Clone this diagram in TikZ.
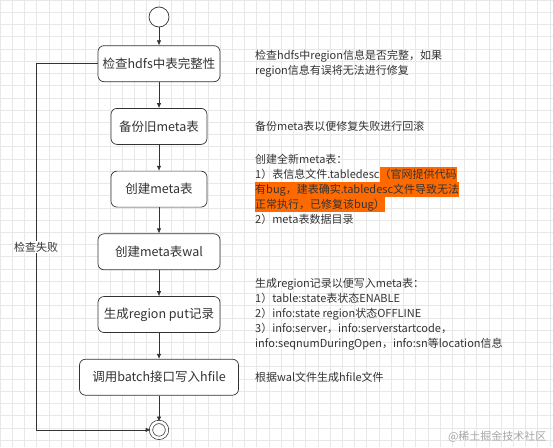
\documentclass[tikz,border=0pt]{standalone}
\usepackage{fontspec}
\setmainfont{Noto Sans CJK SC}
\usetikzlibrary{arrows.meta,positioning}

\definecolor{hlorange}{RGB}{255,106,0}
\definecolor{inkgray}{RGB}{51,51,51}
\newcommand{\hlbug}[1]{{\setlength{\fboxsep}{0pt}\colorbox{hlorange}{\rule[-4pt]{0pt}{15pt}#1}}}

\begin{document}
\begin{tikzpicture}[
  x=1pt, y=-1pt,
  node distance=26pt,
  stepbox/.style={
    rectangle, rounded corners=6pt, draw=inkgray, fill=white, line width=0.7pt,
    minimum width=#1, minimum height=36pt, inner sep=2pt,
    text=inkgray, font=\fontsize{12.5}{15}\selectfont
  },
  stepbox/.default=96pt,
  arrow/.style={-{Latex[length=5pt,width=4.5pt]}, line width=0.7pt, draw=inkgray},
  note/.style={anchor=west, align=left, inner sep=0pt, text=inkgray,
    font=\fontsize{11}{15}\selectfont},
  lbl/.style={font=\fontsize{11}{13}\selectfont, text=inkgray, fill=white, inner sep=1pt},
  gridline/.style={draw=black!9, line width=0.4pt}
]
\useasboundingbox (0,0) rectangle (553,447);

% background grid
\foreach \g in {0,12.22,...,553} \draw[gridline] (\g,0) -- (\g,447);
\foreach \g in {0,12.22,...,447} \draw[gridline] (0,\g) -- (553,\g);

% Steps - vertical layout
\node[circle, draw=inkgray, fill=white, line width=0.7pt, minimum size=20pt] (start) at (159,17) {};
\node[stepbox=122pt, below=18pt of start] (b1) {检查hdfs中表完整性};
\node[stepbox, below=of b1] (b2) {备份旧meta表};
\node[stepbox, below=of b2] (b3) {创建meta表};
\node[stepbox=122pt, below=of b3] (b4) {创建meta表wal};
\node[stepbox=122pt, below=of b4] (b5) {生成region put记录};
\node[stepbox=159pt, below=of b5] (b6) {调用batch接口写入hfile};
\node[circle, draw=inkgray, fill=white, line width=0.7pt, minimum size=16pt,
  double, double distance=2.6pt, below=26pt of b6] (end) {};

% Arrows
\draw[arrow] (start) -- (b1);
\draw[arrow] (b1) -- (b2);
\draw[arrow] (b2) -- (b3);
\draw[arrow] (b3) -- (b4);
\draw[arrow] (b4) -- (b5);
\draw[arrow] (b5) -- (b6);
\draw[arrow] (b6) -- (end);

% failure loop
\coordinate (lp) at (36,0);
\draw[arrow] (b1.west) -| (lp |- end) node[lbl, pos=0.75] {检查失败} -- (end.west);

% Right-side annotations
\coordinate (xn) at (255,0);
\node[note] (n1) at (xn |- b1) {检查hdfs中region信息是否完整，如果\\region信息有误将无法进行修复};
\node[note] (n2) at (xn |- b2) {备份meta表以便修复失败进行回滚};
\node[note] (n3) at (xn |- b3) {创建全新meta表：\\1）表信息文件.tabledesc\hlbug{（官网提供代码}\\\hlbug{有bug，建表确实.tabledesc文件导致无法}\\\hlbug{正常执行，已修复该bug）}\\2）meta表数据目录};
\node[note] (n4) at (xn |- b5) {生成region记录以便写入meta表：\\1）table:state表状态ENABLE\\2）info:state region状态OFFLINE\\3）info:server，info:serverstartcode，\\info:seqnumDuringOpen，info:sn等location信息};
\node[note] (n5) at (xn |- b6) {根据wal文件生成hfile文件};

% watermark
\node[font=\fontsize{11}{13}\selectfont, text=black!35, anchor=east] (wm) at (550,437) {@稀土掘金技术社区};

\end{tikzpicture}
\end{document}
